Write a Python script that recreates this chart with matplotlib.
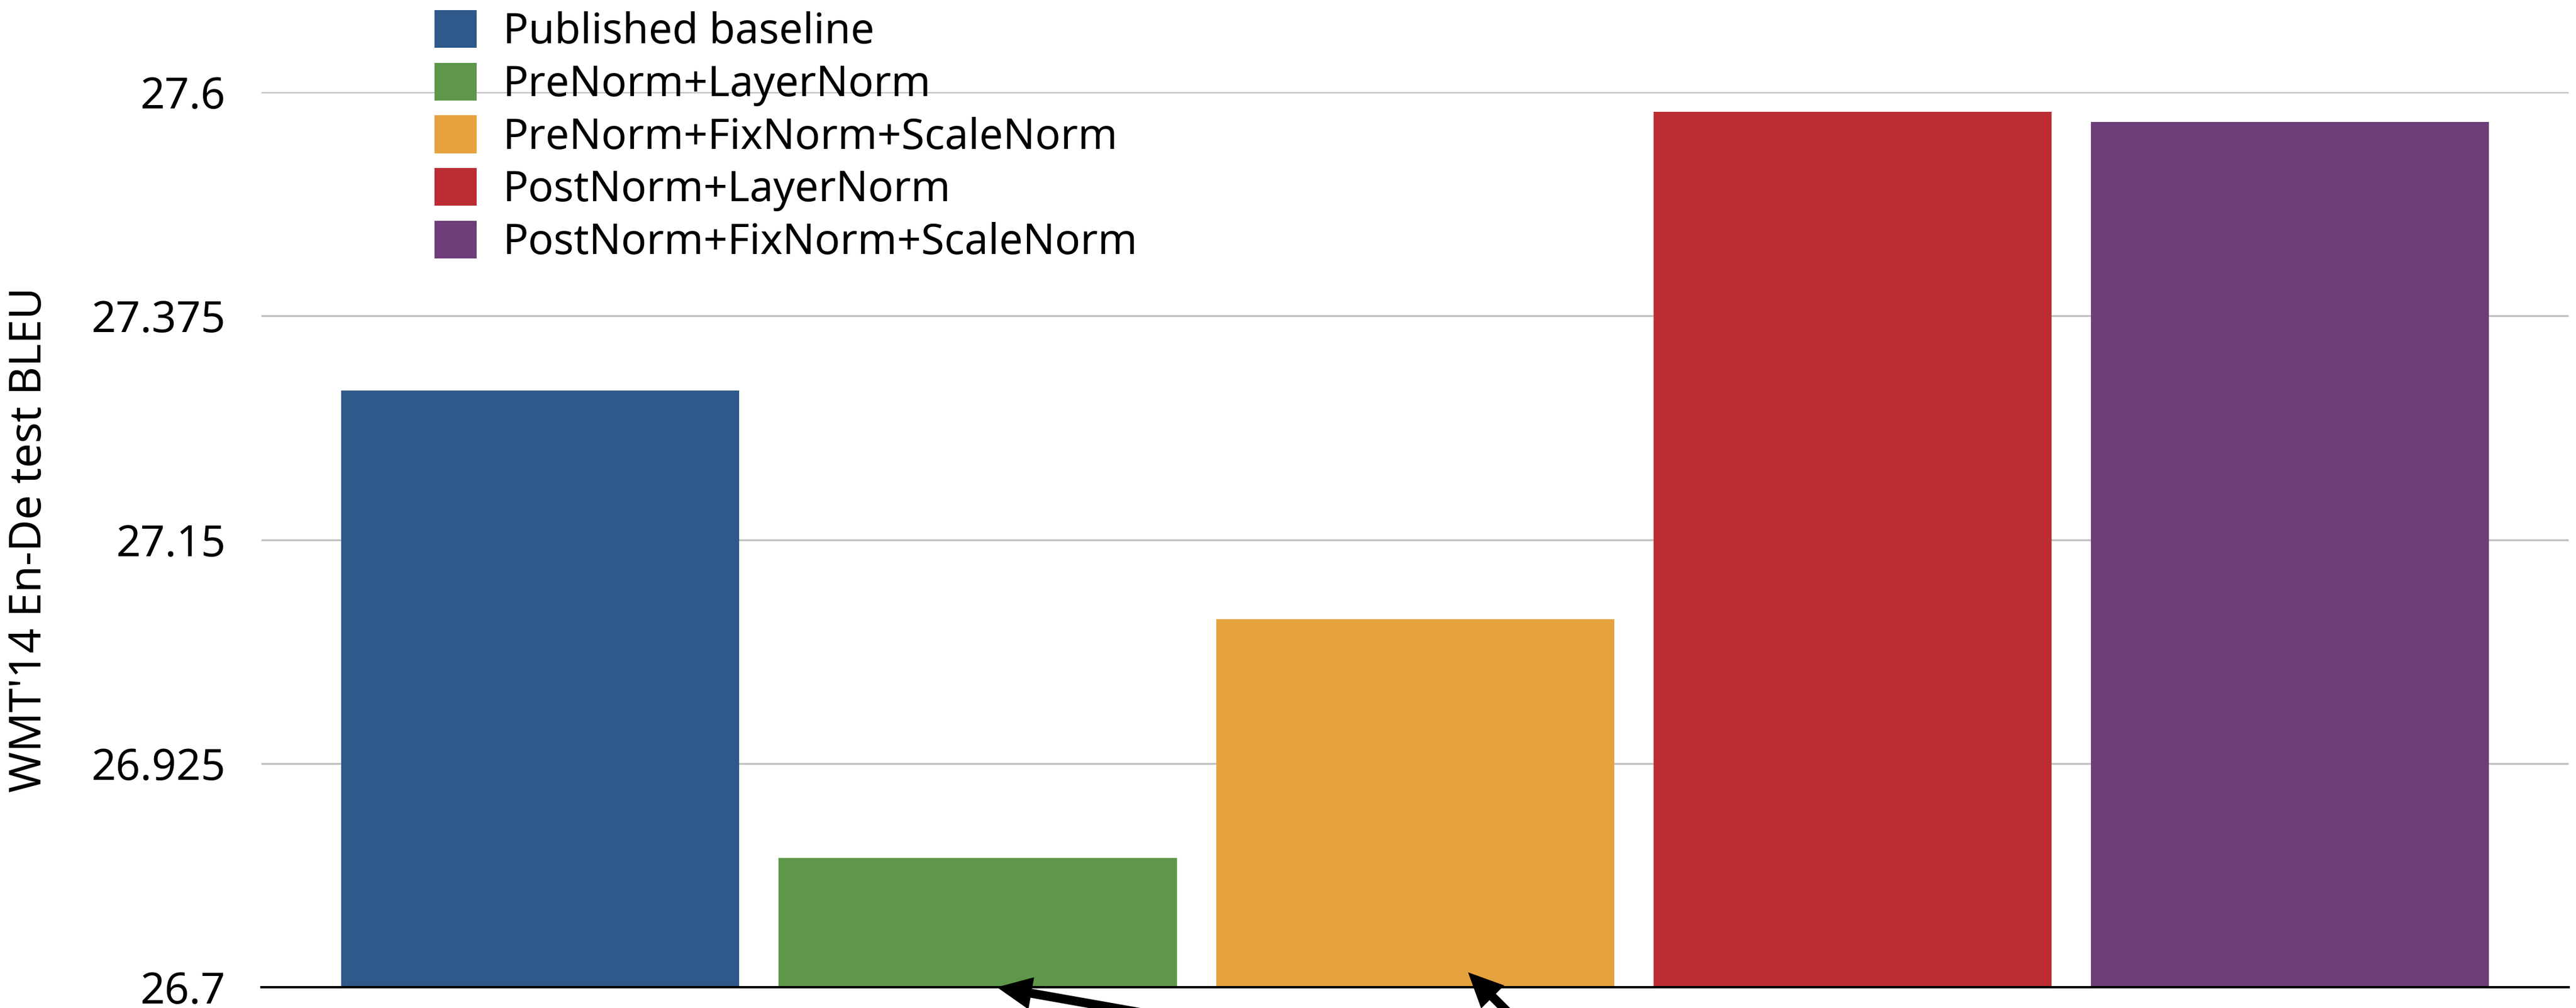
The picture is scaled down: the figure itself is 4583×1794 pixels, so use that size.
import matplotlib
matplotlib.use('Agg')
import matplotlib.pyplot as plt

plt.rcParams['font.family'] = ['Noto Sans', 'DejaVu Sans']

# BLEU on WMT'14 En-De for each normalization setup
labels = ['Published baseline', 'PreNorm+LayerNorm', 'PreNorm+FixNorm+ScaleNorm',
          'PostNorm+LayerNorm', 'PostNorm+FixNorm+ScaleNorm']
bleu = [27.30, 26.83, 27.07, 27.58, 27.57]
colors = ['#2F598A', '#5E974A', '#E6A23E', '#BB2D32', '#6F3D7A']
yticks = [26.7, 26.925, 27.15, 27.375, 27.6]
ytick_labels = ['26.7', '26.925', '27.15', '27.375', '27.6']

# arrow tips (x position, BLEU) pointing at the two PreNorm bars
arrow_tips = [(1.044, 26.7), (2.121, 26.715)]
arrow_offsets = [(300, -53), (160, -160)]

fig = plt.figure(figsize=(45.83, 17.94), dpi=100)
ax = fig.add_axes([0.1015, 0.0206, 0.8957, 0.888])

pos = list(range(len(bleu)))
bars = ax.bar(pos, [b - 26.7 for b in bleu], bottom=26.7, width=0.91,
              color=colors, label=labels, zorder=2)

ax.set_xlim(-0.6375, 4.6375)
ax.set_ylim(26.7, 27.6)
ax.set_yticks(yticks)
ax.set_yticklabels(ytick_labels)
ax.set_xticks([])
ax.tick_params(axis='y', length=0, pad=46, labelsize=55)
ax.set_axisbelow(True)
ax.grid(axis='y', color='#C0C0C0', lw=2.5)

for side in ['top', 'right', 'left']:
    ax.spines[side].set_visible(False)
ax.spines['bottom'].set_linewidth(3)
ax.spines['bottom'].set_color('black')
ax.spines['bottom'].set_zorder(3)

ax.set_ylabel("WMT'14 En-De test BLEU", fontsize=56)
ax.yaxis.set_label_coords(-0.091, 0.5)

for (tx, ty), (dx, dy) in zip(arrow_tips, arrow_offsets):
    ax.annotate('', xy=(tx, ty), xytext=(dx, dy), textcoords='offset pixels',
                annotation_clip=False, zorder=5,
                arrowprops=dict(arrowstyle='simple,head_length=0.62,head_width=0.58,tail_width=0.16',
                                mutation_scale=72, fc='black', ec='none', lw=0,
                                shrinkA=0, shrinkB=0))

fig.legend(handles=bars, labels=labels, loc='upper left',
           bbox_to_anchor=(0.1687, 0.99), frameon=False, fontsize=54,
           handlelength=1.0, handleheight=1.0, handletextpad=0.62,
           labelspacing=0.22, borderpad=0, borderaxespad=0)

fig.savefig('out.png', dpi=100)
